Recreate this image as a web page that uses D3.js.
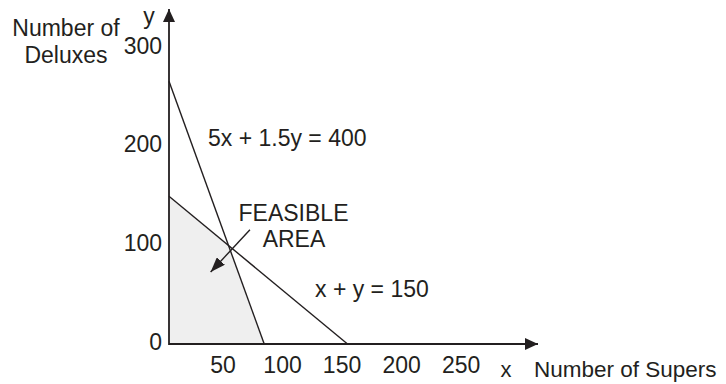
<!DOCTYPE html>
<html>
<head>
<meta charset="utf-8">
<script src="https://cdn.jsdelivr.net/npm/d3@7"></script>
<style>
  html, body { margin: 0; padding: 0; background: #fff; }
  svg { display: block; }
  text { font-family: "Liberation Sans", Arial, Helvetica, sans-serif; fill: #231f20; }
</style>
</head>
<body>
<svg id="chart" width="726" height="384"></svg>
<script>
// ---- data ----
const xTicks = [50, 100, 150, 200, 250];
const yTicks = [0, 100, 200, 300];
const lineLabels = ["5x + 1.5y = 400", "x + y = 150"];
const lineCoefX = [5, 1];
const lineCoefY = [1.5, 1];
const lineRHS = [400, 150];
const feasibleX = [0, 0, 50, 80];
const feasibleY = [0, 150, 100, 0];
const arrowFrom = [68, 116];
const arrowTo = [35, 73];

// ---- layout ----
const ink = "#231f20";
const svg = d3.select("#chart");
const x = d3.scaleLinear().domain([0, 310]).range([169, 538]);
const y = d3.scaleLinear().domain([0, 340]).range([344, 9]);

// markers
const defs = svg.append("defs");
defs.append("marker").attr("id", "axisHead")
  .attr("markerUnits", "userSpaceOnUse")
  .attr("viewBox", "0 0 13 12").attr("refX", 13).attr("refY", 6)
  .attr("markerWidth", 13).attr("markerHeight", 12).attr("orient", "auto")
  .append("path").attr("d", "M0,0L13,6L0,12Z").attr("fill", ink);
defs.append("marker").attr("id", "noteHead")
  .attr("markerUnits", "userSpaceOnUse")
  .attr("viewBox", "0 0 15 11").attr("refX", 15).attr("refY", 5.5)
  .attr("markerWidth", 15).attr("markerHeight", 11).attr("orient", "auto")
  .append("path").attr("d", "M0,0L15,5.5L0,11Z").attr("fill", ink);

// feasible area
const poly = feasibleX.map((d, i) => [x(d), y(feasibleY[i])]);
svg.append("path")
  .attr("d", d3.line()(poly) + "Z")
  .attr("fill", "#efefef").attr("stroke", "none");

// constraint lines
lineRHS.forEach((c, i) => {
  svg.append("line")
    .attr("x1", x(0)).attr("y1", y(c / lineCoefY[i]))
    .attr("x2", x(c / lineCoefX[i])).attr("y2", y(0))
    .attr("stroke", ink).attr("stroke-width", 1.4);
});

// axes lines with arrows
svg.append("line")
  .attr("x1", x(0)).attr("y1", y(0)).attr("x2", x(310)).attr("y2", y(0))
  .attr("stroke", ink).attr("stroke-width", 2).attr("marker-end", "url(#axisHead)");
svg.append("line")
  .attr("x1", x(0)).attr("y1", y(0) + 1).attr("x2", x(0)).attr("y2", y(340))
  .attr("stroke", ink).attr("stroke-width", 1.8).attr("marker-end", "url(#axisHead)");

// tick labels via d3 axes
const gx = svg.append("g").attr("transform", `translate(0,${y(0)})`)
  .call(d3.axisBottom(x).tickValues(xTicks).tickSize(0).tickPadding(0));
gx.select(".domain").remove();
gx.selectAll("text").attr("font-size", 23).attr("font-family", null)
  .attr("fill", ink).attr("dx", -6).attr("y", 29).attr("dy", 0);

const gy = svg.append("g").attr("transform", `translate(${x(0)},0)`)
  .call(d3.axisLeft(y).tickValues(yTicks).tickSize(0).tickPadding(0));
gy.select(".domain").remove();
gy.selectAll("text").attr("font-size", 23).attr("font-family", null)
  .attr("fill", ink).attr("x", -7).attr("dy", 5).attr("dominant-baseline", "auto")
  .attr("text-anchor", "end");

// axis titles
const t = (tx, ty, s, anchor, fs) => svg.append("text")
  .attr("x", tx).attr("y", ty).attr("font-size", fs || 23)
  .attr("text-anchor", anchor || "start").text(s);
t(66, 36, "Number of", "middle");
t(66, 63, "Deluxes", "middle");
t(149, 24, "y", "middle");
t(506, 377, "x", "middle", 22);
t(534, 377, "Number of Supers", "start", 22.5);

// line labels
t(208, 146, lineLabels[0]);
t(315, 297, lineLabels[1]);

// feasible annotation
t(293.5, 221, "FEASIBLE", "middle");
t(294, 247, "AREA", "middle");
svg.append("line")
  .attr("x1", x(arrowFrom[0])).attr("y1", y(arrowFrom[1]))
  .attr("x2", x(arrowTo[0])).attr("y2", y(arrowTo[1]))
  .attr("stroke", ink).attr("stroke-width", 1.4).attr("marker-end", "url(#noteHead)");
</script>
</body>
</html>
